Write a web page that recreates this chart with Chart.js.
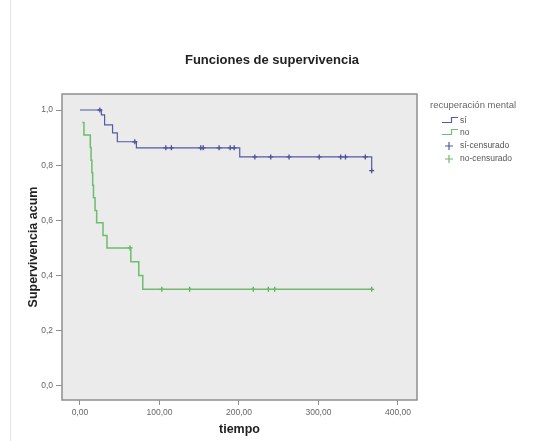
<!DOCTYPE html>
<html>
<head>
<meta charset="utf-8">
<script src="https://cdn.jsdelivr.net/npm/chart.js@4.4.1/dist/chart.umd.min.js"></script>
<style>
  html, body { margin: 0; padding: 0; background: #ffffff; }
  #wrap { position: relative; width: 539px; height: 441px; }
</style>
</head>
<body>
<div id="wrap"><canvas id="c" width="539" height="441"></canvas></div>
<script>
// ---- Data ----
const chartTitle = "Funciones de supervivencia";
const xTitle = "tiempo";
const yTitle = "Supervivencia acum";
const legendTitle = "recuperación mental";
const seriesNames = ["sí", "no", "sí-censurado", "no-censurado"];

const xTickValues = [0, 100, 200, 300, 400];
const yTickValues = [0, 0.2, 0.4, 0.6, 0.8, 1.0];

// "sí" group: survival step function
const siTime = [0, 27, 31, 41, 47, 71, 201, 367];
const siSurv = [1.0, 0.982, 0.946, 0.917, 0.885, 0.863, 0.83, 0.78];
// "sí" censored observations
const siCensTime = [25, 69, 108, 115, 152, 155, 175, 189, 194, 220, 240, 263, 301, 328, 334, 359, 367];
const siCensSurv = [1.0, 0.885, 0.863, 0.863, 0.863, 0.863, 0.863, 0.863, 0.863, 0.83, 0.83, 0.83, 0.83, 0.83, 0.83, 0.83, 0.78];

// "no" group: survival step function
const noTime = [3, 5, 13, 14, 15, 16, 17, 19, 21, 29, 34, 64, 74, 79, 367];
const noSurv = [0.955, 0.909, 0.864, 0.818, 0.773, 0.727, 0.682, 0.636, 0.591, 0.545, 0.5, 0.45, 0.4, 0.35, 0.35];
// "no" censored observations
const noCensTime = [63, 103, 138, 218, 237, 245, 367];
const noCensSurv = [0.5, 0.35, 0.35, 0.35, 0.35, 0.35, 0.35];

// ---- Styles ----
const BLUE = "rgb(84,90,165)";
const GREEN = "rgb(108,190,108)";
const FONT = "'Liberation Sans', Arial, sans-serif";

const toPts = (xs, ys) => xs.map((x, i) => ({ x: x, y: ys[i] }));
const fmt = (v, d) => v.toFixed(d).replace(".", ",");

// step icon for the legend
function stepIcon(color) {
  const c = document.createElement("canvas");
  c.width = 16; c.height = 8;
  const g = c.getContext("2d");
  g.strokeStyle = color; g.lineWidth = 1.2;
  g.beginPath();
  g.moveTo(0, 6.5); g.lineTo(9.5, 6.5); g.lineTo(9.5, 1.5); g.lineTo(16, 1.5);
  g.stroke();
  return c;
}

const framePlugin = {
  id: "frame",
  beforeDraw(chart) {
    const { ctx, chartArea: a } = chart;
    ctx.save();
    ctx.fillStyle = "#ffffff";
    ctx.fillRect(0, 0, chart.width, chart.height);
    ctx.strokeStyle = "#e4e4e4";
    ctx.lineWidth = 1;
    ctx.beginPath(); ctx.moveTo(10.5, 0); ctx.lineTo(10.5, chart.height); ctx.stroke();
    ctx.fillStyle = "#ebebeb";
    ctx.fillRect(a.left, a.top, a.right - a.left, a.bottom - a.top);
    ctx.restore();
  },
  afterDraw(chart) {
    const { ctx, chartArea: a } = chart;
    ctx.save();
    ctx.strokeStyle = "#8e8e8e";
    ctx.lineWidth = 1.5;
    ctx.strokeRect(a.left, a.top, a.right - a.left, a.bottom - a.top);
    // chart title
    ctx.fillStyle = "#222";
    ctx.font = "bold 13px " + FONT;
    ctx.textAlign = "center"; ctx.textBaseline = "middle";
    ctx.fillText(chartTitle, 272, 60);
    // legend
    ctx.font = "9.5px " + FONT;
    ctx.fillStyle = "#666";
    ctx.textAlign = "left";
    ctx.fillText(legendTitle, 430, 105);
    const rows = [121, 133, 146, 159];
    ctx.font = "8.5px " + FONT;
    seriesNames.forEach((name, i) => {
      const y = rows[i];
      if (i < 2) {
        ctx.drawImage(stepIcon(i === 0 ? BLUE : GREEN), 442, y - 5);
      } else {
        const col = i === 2 ? BLUE : GREEN;
        ctx.strokeStyle = col; ctx.lineWidth = 1.2;
        ctx.beginPath();
        ctx.moveTo(445, y); ctx.lineTo(453, y);
        ctx.moveTo(449, y - 4); ctx.lineTo(449, y + 4);
        ctx.stroke();
      }
      ctx.fillStyle = "#555";
      ctx.fillText(name, 460, y);
    });
    ctx.restore();
  }
};

new Chart(document.getElementById("c"), {
  type: "scatter",
  data: {
    datasets: [
      { label: seriesNames[0], data: toPts(siTime, siSurv), showLine: true, stepped: "before",
        borderColor: BLUE, borderWidth: 1.2, pointRadius: 0, fill: false },
      { label: seriesNames[1], data: toPts(noTime, noSurv), showLine: true, stepped: "before",
        borderColor: GREEN, borderWidth: 1.5, pointRadius: 0, fill: false },
      { label: seriesNames[2], data: toPts(siCensTime, siCensSurv), showLine: false,
        pointStyle: "cross", pointRadius: 2.5, borderColor: "rgb(70,76,150)", borderWidth: 1.3 },
      { label: seriesNames[3], data: toPts(noCensTime, noCensSurv), showLine: false,
        pointStyle: "cross", pointRadius: 2.5, borderColor: "rgb(90,170,90)", borderWidth: 1.3 }
    ]
  },
  options: {
    responsive: false,
    animation: false,
    layout: { padding: { left: 22, top: 94, right: 122, bottom: 0 } },
    plugins: { legend: { display: false }, title: { display: false }, tooltip: { enabled: false } },
    scales: {
      x: {
        type: "linear", min: -22.6, max: 424,
        afterBuildTicks: s => { s.ticks = xTickValues.map(v => ({ value: v })); },
        afterFit: s => { s.height = 41; },
        grid: { drawOnChartArea: false, drawTicks: true, tickLength: 5, color: "#8e8e8e", lineWidth: 1 },
        border: { display: false },
        ticks: { callback: v => fmt(v, 2), font: { family: FONT, size: 8.5 }, color: "#666", padding: 3, maxRotation: 0 },
        title: { display: true, text: xTitle, font: { family: FONT, size: 12.5, weight: "bold" }, color: "#222", padding: { top: 0, bottom: 4 } }
      },
      y: {
        type: "linear", min: -0.051, max: 1.058,
        afterBuildTicks: s => { s.ticks = yTickValues.map(v => ({ value: v })); },
        afterFit: s => { s.width = 40; },
        grid: { drawOnChartArea: false, drawTicks: true, tickLength: 6, color: "#8e8e8e", lineWidth: 1 },
        border: { display: false },
        ticks: { callback: v => fmt(v, 1), font: { family: FONT, size: 8.5 }, color: "#666", padding: 3 },
        title: { display: true, text: yTitle, font: { family: FONT, size: 12.5, weight: "bold" }, color: "#222", padding: { top: 4, bottom: 0 } }
      }
    }
  },
  plugins: [framePlugin]
});
</script>
</body>
</html>
